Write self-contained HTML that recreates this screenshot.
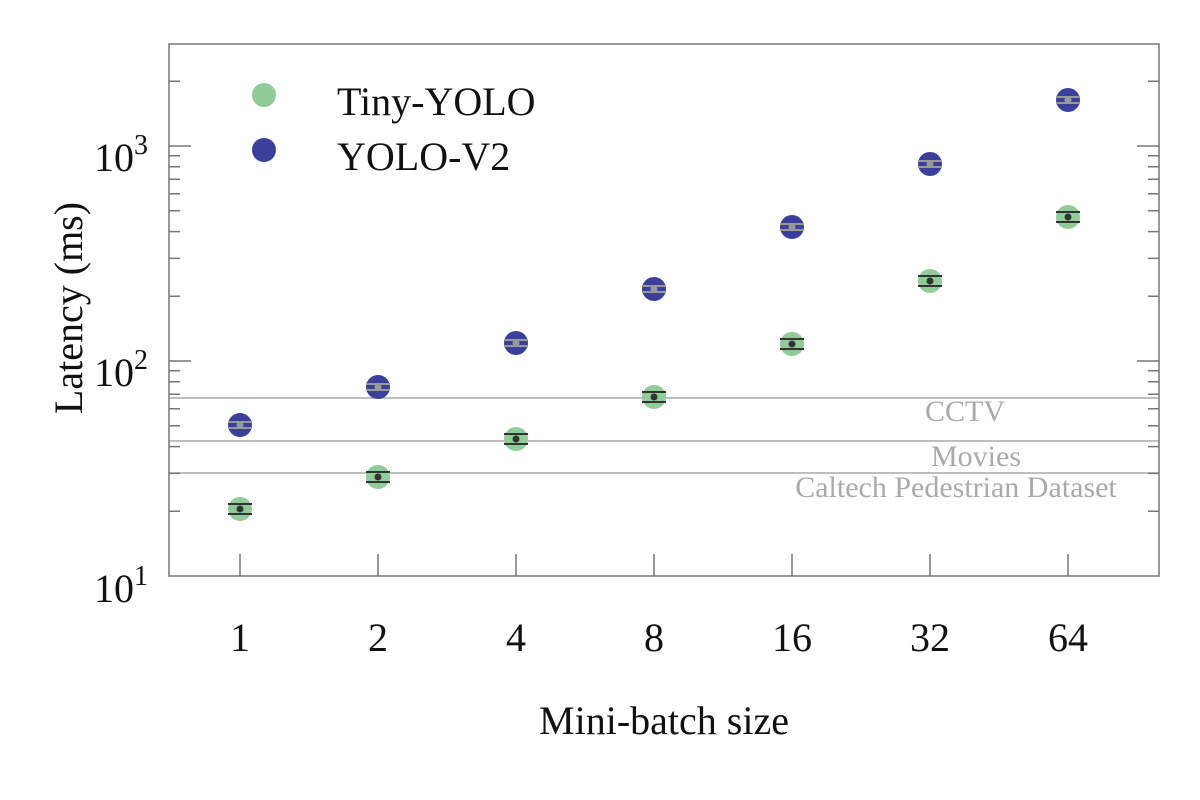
<!DOCTYPE html>
<html><head><meta charset="utf-8"><style>body{margin:0;background:#fff}svg{display:block}</style></head><body>
<svg width="1200" height="800" xmlns="http://www.w3.org/2000/svg" font-family="Liberation Serif, serif">
<g stroke="#aaa" stroke-width="1.5">
<line x1="169" y1="398" x2="1159" y2="398"/>
<line x1="169" y1="441" x2="1159" y2="441"/>
<line x1="169" y1="473" x2="1159" y2="473"/>
</g>
<g fill="#aaa" font-size="30" text-anchor="middle">
<text x="965" y="421">CCTV</text>
<text x="976" y="466">Movies</text>
<text x="956" y="497">Caltech Pedestrian Dataset</text>
</g>
<g stroke="#777" stroke-width="1.5">
<rect x="169" y="44" width="990" height="532" fill="none"/>
<path d="M169 361h22M169 146h22M1159 361h-22M1159 146h-22"/>
<path d="M169 511.3h11M169 473.4h11M169 446.6h11M169 425.7h11M169 408.7h11M169 394.3h11M169 381.8h11M169 370.8h11M169 296.3h11M169 258.4h11M169 231.6h11M169 210.7h11M169 193.7h11M169 179.3h11M169 166.8h11M169 155.8h11M169 81.3h11"/>
<path d="M1159 511.3h-11M1159 473.4h-11M1159 446.6h-11M1159 425.7h-11M1159 408.7h-11M1159 394.3h-11M1159 381.8h-11M1159 370.8h-11M1159 296.3h-11M1159 258.4h-11M1159 231.6h-11M1159 210.7h-11M1159 193.7h-11M1159 179.3h-11M1159 166.8h-11M1159 155.8h-11M1159 81.3h-11"/>
<path d="M240 576v-22M378 576v-22M516 576v-22M654 576v-22M792 576v-22M930 576v-22M1068 576v-22"/>
</g>
<g font-size="40" text-anchor="middle" fill="#111">
<text x="240" y="651">1</text><text x="378" y="651">2</text><text x="516" y="651">4</text><text x="654" y="651">8</text><text x="792" y="651">16</text><text x="930" y="651">32</text><text x="1068" y="651">64</text>
<text x="664" y="734">Mini-batch size</text>
<text transform="translate(82 308) rotate(-90)">Latency (ms)</text>
</g>
<g font-size="40" fill="#111" text-anchor="end">
<text x="148" y="602">10<tspan font-size="28" dy="-17">1</tspan></text>
<text x="148" y="386">10<tspan font-size="28" dy="-17">2</tspan></text>
<text x="148" y="171">10<tspan font-size="28" dy="-17">3</tspan></text>
</g>
<g fill="#90cc98">
<circle cx="240" cy="509" r="12"/><circle cx="378" cy="477" r="12"/><circle cx="516" cy="439" r="12"/><circle cx="654" cy="397" r="12"/><circle cx="792" cy="344" r="12"/><circle cx="930" cy="281" r="12"/><circle cx="1068" cy="217" r="12"/>
</g>
<g stroke="#333" stroke-width="2">
<path d="M228 504h24M228 514h24M366 472h24M366 482h24M504 434h24M504 444h24M642 392h24M642 402h24M780 339h24M780 349h24M918 276h24M918 286h24M1056 212h24M1056 222h24"/>
</g>
<g fill="#333">
<circle cx="240" cy="509" r="3.5"/><circle cx="378" cy="477" r="3.5"/><circle cx="516" cy="439" r="3.5"/><circle cx="654" cy="397" r="3.5"/><circle cx="792" cy="344" r="3.5"/><circle cx="930" cy="281" r="3.5"/><circle cx="1068" cy="217" r="3.5"/>
</g>
<g fill="#3b3f9c">
<circle cx="240" cy="425" r="12"/><circle cx="378" cy="387" r="12"/><circle cx="516" cy="343" r="12"/><circle cx="654" cy="289" r="12"/><circle cx="792" cy="227" r="12"/><circle cx="930" cy="164" r="12"/><circle cx="1068" cy="100" r="12"/>
</g>
<g stroke="#999" stroke-width="2">
<path d="M228 422h24M228 428h24M366 384h24M366 390h24M504 340h24M504 346h24M642 286h24M642 292h24M780 224h24M780 230h24M918 161h24M918 167h24M1056 97h24M1056 103h24"/>
</g>
<g fill="#999">
<circle cx="240" cy="425" r="3.5"/><circle cx="378" cy="387" r="3.5"/><circle cx="516" cy="343" r="3.5"/><circle cx="654" cy="289" r="3.5"/><circle cx="792" cy="227" r="3.5"/><circle cx="930" cy="164" r="3.5"/><circle cx="1068" cy="100" r="3.5"/>
</g>
<circle cx="264" cy="95" r="12" fill="#90cc98"/>
<circle cx="264" cy="150" r="12" fill="#3b3f9c"/>
<g font-size="40" fill="#111">
<text x="337" y="115">Tiny-YOLO</text>
<text x="337" y="170">YOLO-V2</text>
</g>
</svg>
</body></html>
